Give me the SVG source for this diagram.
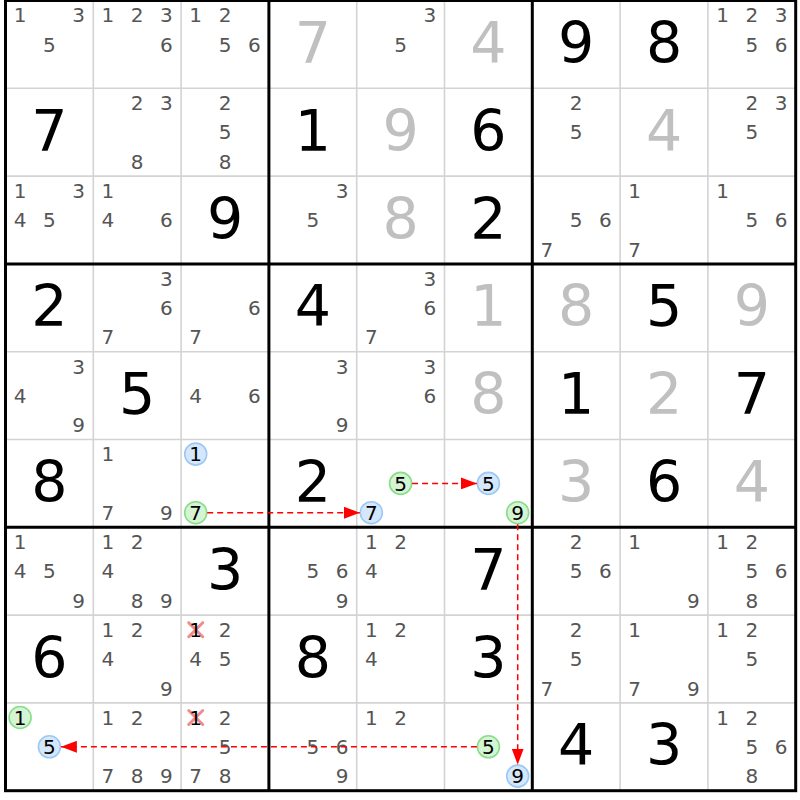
<svg xmlns="http://www.w3.org/2000/svg" width="800" height="800" viewBox="0 0 800 800">
<defs>
<style>
text{font-family:"DejaVu Sans","Liberation Sans",sans-serif;text-anchor:middle}
.c{font-size:20px;fill:#555}
.g{font-size:57px;fill:#000}
.s{font-size:57px;fill:#c0c0c0}
.h{font-size:20px;fill:#000}
.hb{fill:#d5e8fb;stroke:#9cc8f5;stroke-width:1.6}
.hg{fill:#d4f4d4;stroke:#88dd88;stroke-width:1.6}
.x{stroke:#f28b8b;stroke-width:3;stroke-linecap:round}
.thin{stroke:#d3d3d3;stroke-width:1.6}
.thick{stroke:#000;stroke-width:3}
.arr{stroke:#f00;stroke-width:1.5;stroke-dasharray:6 4;fill:none;marker-end:url(#ah)}
</style>
<marker id="ah" markerUnits="userSpaceOnUse" markerWidth="16" markerHeight="12" refX="16" refY="6" orient="auto">
<path d="M0,0 L16,6 L0,12 Z" fill="#f00"/>
</marker>
</defs>
<rect width="800" height="800" fill="#fff"/>
<g id="grid">
<path class="thin" d="M93.3,0.5V790.7M181.1,0.5V790.7M356.7,0.5V790.7M444.5,0.5V790.7M620.1,0.5V790.7M707.9,0.5V790.7M5.5,88.3H795.7M5.5,176.1H795.7M5.5,351.7H795.7M5.5,439.5H795.7M5.5,615.1H795.7M5.5,702.9H795.7"/>
<path class="thick" d="M268.9,0.5V790.7M532.3,0.5V790.7M5.5,263.9H795.7M5.5,527.3H795.7"/>
<rect class="thick" x="5.5" y="0.5" width="790.2" height="790.2" fill="none"/>
</g>
<g id="r0c0" transform="translate(49.4,44.4)"><text class="c" x="-29.3" y="-22.1">1</text><text class="c" x="29.3" y="-22.1">3</text><text class="c" x="0" y="7.2">5</text></g>
<g id="r0c1" transform="translate(137.2,44.4)"><text class="c" x="-29.3" y="-22.1">1</text><text class="c" x="0" y="-22.1">2</text><text class="c" x="29.3" y="-22.1">3</text><text class="c" x="29.3" y="7.2">6</text></g>
<g id="r0c2" transform="translate(225,44.4)"><text class="c" x="-29.3" y="-22.1">1</text><text class="c" x="0" y="-22.1">2</text><text class="c" x="0" y="7.2">5</text><text class="c" x="29.3" y="7.2">6</text></g>
<g id="r0c3" transform="translate(312.8,44.4)"><text class="s" x="0" y="18.5">7</text></g>
<g id="r0c4" transform="translate(400.6,44.4)"><text class="c" x="29.3" y="-22.1">3</text><text class="c" x="0" y="7.2">5</text></g>
<g id="r0c5" transform="translate(488.4,44.4)"><text class="s" x="0" y="18.5">4</text></g>
<g id="r0c6" transform="translate(576.2,44.4)"><text class="g" x="0" y="18.5">9</text></g>
<g id="r0c7" transform="translate(664,44.4)"><text class="g" x="0" y="18.5">8</text></g>
<g id="r0c8" transform="translate(751.8,44.4)"><text class="c" x="-29.3" y="-22.1">1</text><text class="c" x="0" y="-22.1">2</text><text class="c" x="29.3" y="-22.1">3</text><text class="c" x="0" y="7.2">5</text><text class="c" x="29.3" y="7.2">6</text></g>

<g id="r1c0" transform="translate(49.4,132.2)"><text class="g" x="0" y="18.5">7</text></g>
<g id="r1c1" transform="translate(137.2,132.2)"><text class="c" x="0" y="-22.1">2</text><text class="c" x="29.3" y="-22.1">3</text><text class="c" x="0" y="36.5">8</text></g>
<g id="r1c2" transform="translate(225,132.2)"><text class="c" x="0" y="-22.1">2</text><text class="c" x="0" y="7.2">5</text><text class="c" x="0" y="36.5">8</text></g>
<g id="r1c3" transform="translate(312.8,132.2)"><text class="g" x="0" y="18.5">1</text></g>
<g id="r1c4" transform="translate(400.6,132.2)"><text class="s" x="0" y="18.5">9</text></g>
<g id="r1c5" transform="translate(488.4,132.2)"><text class="g" x="0" y="18.5">6</text></g>
<g id="r1c6" transform="translate(576.2,132.2)"><text class="c" x="0" y="-22.1">2</text><text class="c" x="0" y="7.2">5</text></g>
<g id="r1c7" transform="translate(664,132.2)"><text class="s" x="0" y="18.5">4</text></g>
<g id="r1c8" transform="translate(751.8,132.2)"><text class="c" x="0" y="-22.1">2</text><text class="c" x="29.3" y="-22.1">3</text><text class="c" x="0" y="7.2">5</text></g>

<g id="r2c0" transform="translate(49.4,220)"><text class="c" x="-29.3" y="-22.1">1</text><text class="c" x="29.3" y="-22.1">3</text><text class="c" x="-29.3" y="7.2">4</text><text class="c" x="0" y="7.2">5</text></g>
<g id="r2c1" transform="translate(137.2,220)"><text class="c" x="-29.3" y="-22.1">1</text><text class="c" x="-29.3" y="7.2">4</text><text class="c" x="29.3" y="7.2">6</text></g>
<g id="r2c2" transform="translate(225,220)"><text class="g" x="0" y="18.5">9</text></g>
<g id="r2c3" transform="translate(312.8,220)"><text class="c" x="29.3" y="-22.1">3</text><text class="c" x="0" y="7.2">5</text></g>
<g id="r2c4" transform="translate(400.6,220)"><text class="s" x="0" y="18.5">8</text></g>
<g id="r2c5" transform="translate(488.4,220)"><text class="g" x="0" y="18.5">2</text></g>
<g id="r2c6" transform="translate(576.2,220)"><text class="c" x="0" y="7.2">5</text><text class="c" x="29.3" y="7.2">6</text><text class="c" x="-29.3" y="36.5">7</text></g>
<g id="r2c7" transform="translate(664,220)"><text class="c" x="-29.3" y="-22.1">1</text><text class="c" x="-29.3" y="36.5">7</text></g>
<g id="r2c8" transform="translate(751.8,220)"><text class="c" x="-29.3" y="-22.1">1</text><text class="c" x="0" y="7.2">5</text><text class="c" x="29.3" y="7.2">6</text></g>

<g id="r3c0" transform="translate(49.4,307.8)"><text class="g" x="0" y="18.5">2</text></g>
<g id="r3c1" transform="translate(137.2,307.8)"><text class="c" x="29.3" y="-22.1">3</text><text class="c" x="29.3" y="7.2">6</text><text class="c" x="-29.3" y="36.5">7</text></g>
<g id="r3c2" transform="translate(225,307.8)"><text class="c" x="29.3" y="7.2">6</text><text class="c" x="-29.3" y="36.5">7</text></g>
<g id="r3c3" transform="translate(312.8,307.8)"><text class="g" x="0" y="18.5">4</text></g>
<g id="r3c4" transform="translate(400.6,307.8)"><text class="c" x="29.3" y="-22.1">3</text><text class="c" x="29.3" y="7.2">6</text><text class="c" x="-29.3" y="36.5">7</text></g>
<g id="r3c5" transform="translate(488.4,307.8)"><text class="s" x="0" y="18.5">1</text></g>
<g id="r3c6" transform="translate(576.2,307.8)"><text class="s" x="0" y="18.5">8</text></g>
<g id="r3c7" transform="translate(664,307.8)"><text class="g" x="0" y="18.5">5</text></g>
<g id="r3c8" transform="translate(751.8,307.8)"><text class="s" x="0" y="18.5">9</text></g>

<g id="r4c0" transform="translate(49.4,395.6)"><text class="c" x="29.3" y="-22.1">3</text><text class="c" x="-29.3" y="7.2">4</text><text class="c" x="29.3" y="36.5">9</text></g>
<g id="r4c1" transform="translate(137.2,395.6)"><text class="g" x="0" y="18.5">5</text></g>
<g id="r4c2" transform="translate(225,395.6)"><text class="c" x="-29.3" y="7.2">4</text><text class="c" x="29.3" y="7.2">6</text></g>
<g id="r4c3" transform="translate(312.8,395.6)"><text class="c" x="29.3" y="-22.1">3</text><text class="c" x="29.3" y="36.5">9</text></g>
<g id="r4c4" transform="translate(400.6,395.6)"><text class="c" x="29.3" y="-22.1">3</text><text class="c" x="29.3" y="7.2">6</text></g>
<g id="r4c5" transform="translate(488.4,395.6)"><text class="s" x="0" y="18.5">8</text></g>
<g id="r4c6" transform="translate(576.2,395.6)"><text class="g" x="0" y="18.5">1</text></g>
<g id="r4c7" transform="translate(664,395.6)"><text class="s" x="0" y="18.5">2</text></g>
<g id="r4c8" transform="translate(751.8,395.6)"><text class="g" x="0" y="18.5">7</text></g>

<g id="r5c0" transform="translate(49.4,483.4)"><text class="g" x="0" y="18.5">8</text></g>
<g id="r5c1" transform="translate(137.2,483.4)"><text class="c" x="-29.3" y="-22.1">1</text><text class="c" x="-29.3" y="36.5">7</text><text class="c" x="29.3" y="36.5">9</text></g>
<g id="r5c2" transform="translate(225,483.4)"><circle class="hb" cx="-29.3" cy="-29.3" r="11"/><text class="h" x="-29.3" y="-22.1">1</text><circle class="hg" cx="-29.3" cy="29.3" r="11"/><text class="h" x="-29.3" y="36.5">7</text></g>
<g id="r5c3" transform="translate(312.8,483.4)"><text class="g" x="0" y="18.5">2</text></g>
<g id="r5c4" transform="translate(400.6,483.4)"><circle class="hg" cx="0" cy="0" r="11"/><text class="h" x="0" y="7.2">5</text><circle class="hb" cx="-29.3" cy="29.3" r="11"/><text class="h" x="-29.3" y="36.5">7</text></g>
<g id="r5c5" transform="translate(488.4,483.4)"><circle class="hb" cx="0" cy="0" r="11"/><text class="h" x="0" y="7.2">5</text><circle class="hg" cx="29.3" cy="29.3" r="11"/><text class="h" x="29.3" y="36.5">9</text></g>
<g id="r5c6" transform="translate(576.2,483.4)"><text class="s" x="0" y="18.5">3</text></g>
<g id="r5c7" transform="translate(664,483.4)"><text class="g" x="0" y="18.5">6</text></g>
<g id="r5c8" transform="translate(751.8,483.4)"><text class="s" x="0" y="18.5">4</text></g>

<g id="r6c0" transform="translate(49.4,571.2)"><text class="c" x="-29.3" y="-22.1">1</text><text class="c" x="-29.3" y="7.2">4</text><text class="c" x="0" y="7.2">5</text><text class="c" x="29.3" y="36.5">9</text></g>
<g id="r6c1" transform="translate(137.2,571.2)"><text class="c" x="-29.3" y="-22.1">1</text><text class="c" x="0" y="-22.1">2</text><text class="c" x="-29.3" y="7.2">4</text><text class="c" x="0" y="36.5">8</text><text class="c" x="29.3" y="36.5">9</text></g>
<g id="r6c2" transform="translate(225,571.2)"><text class="g" x="0" y="18.5">3</text></g>
<g id="r6c3" transform="translate(312.8,571.2)"><text class="c" x="0" y="7.2">5</text><text class="c" x="29.3" y="7.2">6</text><text class="c" x="29.3" y="36.5">9</text></g>
<g id="r6c4" transform="translate(400.6,571.2)"><text class="c" x="-29.3" y="-22.1">1</text><text class="c" x="0" y="-22.1">2</text><text class="c" x="-29.3" y="7.2">4</text></g>
<g id="r6c5" transform="translate(488.4,571.2)"><text class="g" x="0" y="18.5">7</text></g>
<g id="r6c6" transform="translate(576.2,571.2)"><text class="c" x="0" y="-22.1">2</text><text class="c" x="0" y="7.2">5</text><text class="c" x="29.3" y="7.2">6</text></g>
<g id="r6c7" transform="translate(664,571.2)"><text class="c" x="-29.3" y="-22.1">1</text><text class="c" x="29.3" y="36.5">9</text></g>
<g id="r6c8" transform="translate(751.8,571.2)"><text class="c" x="-29.3" y="-22.1">1</text><text class="c" x="0" y="-22.1">2</text><text class="c" x="0" y="7.2">5</text><text class="c" x="29.3" y="7.2">6</text><text class="c" x="0" y="36.5">8</text></g>

<g id="r7c0" transform="translate(49.4,659)"><text class="g" x="0" y="18.5">6</text></g>
<g id="r7c1" transform="translate(137.2,659)"><text class="c" x="-29.3" y="-22.1">1</text><text class="c" x="0" y="-22.1">2</text><text class="c" x="-29.3" y="7.2">4</text><text class="c" x="29.3" y="36.5">9</text></g>
<g id="r7c2" transform="translate(225,659)"><path class="x" d="M-36.3,-36.3L-22.3,-22.3M-22.3,-36.3L-36.3,-22.3"/><text class="h" x="-29.3" y="-22.1">1</text><text class="c" x="0" y="-22.1">2</text><text class="c" x="-29.3" y="7.2">4</text><text class="c" x="0" y="7.2">5</text></g>
<g id="r7c3" transform="translate(312.8,659)"><text class="g" x="0" y="18.5">8</text></g>
<g id="r7c4" transform="translate(400.6,659)"><text class="c" x="-29.3" y="-22.1">1</text><text class="c" x="0" y="-22.1">2</text><text class="c" x="-29.3" y="7.2">4</text></g>
<g id="r7c5" transform="translate(488.4,659)"><text class="g" x="0" y="18.5">3</text></g>
<g id="r7c6" transform="translate(576.2,659)"><text class="c" x="0" y="-22.1">2</text><text class="c" x="0" y="7.2">5</text><text class="c" x="-29.3" y="36.5">7</text></g>
<g id="r7c7" transform="translate(664,659)"><text class="c" x="-29.3" y="-22.1">1</text><text class="c" x="-29.3" y="36.5">7</text><text class="c" x="29.3" y="36.5">9</text></g>
<g id="r7c8" transform="translate(751.8,659)"><text class="c" x="-29.3" y="-22.1">1</text><text class="c" x="0" y="-22.1">2</text><text class="c" x="0" y="7.2">5</text></g>

<g id="r8c0" transform="translate(49.4,746.8)"><circle class="hg" cx="-29.3" cy="-29.3" r="11"/><text class="h" x="-29.3" y="-22.1">1</text><circle class="hb" cx="0" cy="0" r="11"/><text class="h" x="0" y="7.2">5</text></g>
<g id="r8c1" transform="translate(137.2,746.8)"><text class="c" x="-29.3" y="-22.1">1</text><text class="c" x="0" y="-22.1">2</text><text class="c" x="-29.3" y="36.5">7</text><text class="c" x="0" y="36.5">8</text><text class="c" x="29.3" y="36.5">9</text></g>
<g id="r8c2" transform="translate(225,746.8)"><path class="x" d="M-36.3,-36.3L-22.3,-22.3M-22.3,-36.3L-36.3,-22.3"/><text class="h" x="-29.3" y="-22.1">1</text><text class="c" x="0" y="-22.1">2</text><text class="c" x="0" y="7.2">5</text><text class="c" x="-29.3" y="36.5">7</text><text class="c" x="0" y="36.5">8</text></g>
<g id="r8c3" transform="translate(312.8,746.8)"><text class="c" x="0" y="7.2">5</text><text class="c" x="29.3" y="7.2">6</text><text class="c" x="29.3" y="36.5">9</text></g>
<g id="r8c4" transform="translate(400.6,746.8)"><text class="c" x="-29.3" y="-22.1">1</text><text class="c" x="0" y="-22.1">2</text></g>
<g id="r8c5" transform="translate(488.4,746.8)"><circle class="hg" cx="0" cy="0" r="11"/><text class="h" x="0" y="7.2">5</text><circle class="hb" cx="29.3" cy="29.3" r="11"/><text class="h" x="29.3" y="36.5">9</text></g>
<g id="r8c6" transform="translate(576.2,746.8)"><text class="g" x="0" y="18.5">4</text></g>
<g id="r8c7" transform="translate(664,746.8)"><text class="g" x="0" y="18.5">3</text></g>
<g id="r8c8" transform="translate(751.8,746.8)"><text class="c" x="-29.3" y="-22.1">1</text><text class="c" x="0" y="-22.1">2</text><text class="c" x="0" y="7.2">5</text><text class="c" x="29.3" y="7.2">6</text><text class="c" x="0" y="36.5">8</text></g>

<g id="connectors">
<path class="arr" d="M207.2,512.7H359.8"/>
<path class="arr" d="M412.1,483.4H476.9"/>
<path class="arr" d="M517.7,524.2V764.6"/>
<path class="arr" d="M476.9,746.8H60.9"/>
</g>
</svg>
